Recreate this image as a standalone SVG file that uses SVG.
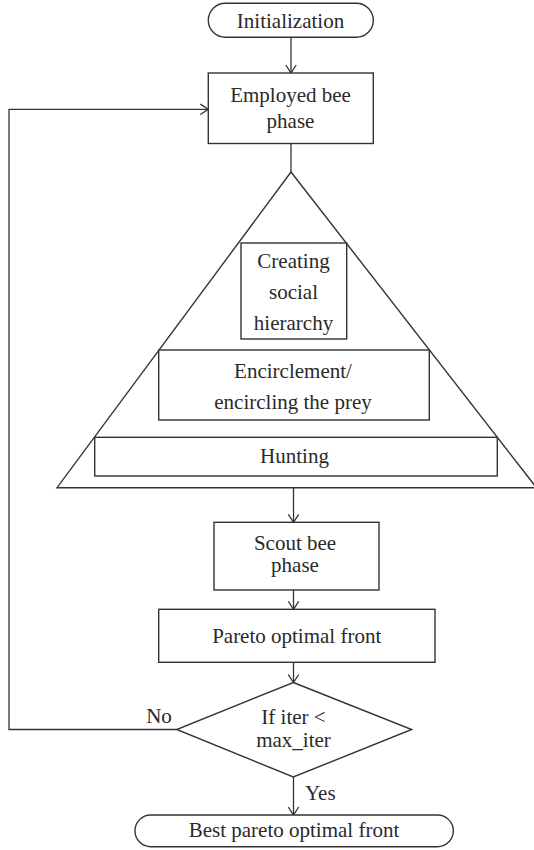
<svg xmlns="http://www.w3.org/2000/svg" width="534" height="850" viewBox="0 0 534 850">
<defs>
<marker id="arr" markerWidth="12" markerHeight="12" refX="10" refY="6" orient="auto" markerUnits="userSpaceOnUse">
<path d="M2,0.8 L10,6 L2,11.2" fill="none" stroke="#333" stroke-width="1.3"/>
</marker>
<style>
.s{fill:#fff;stroke:#333;stroke-width:1.4}
.c{fill:none;stroke:#333;stroke-width:1.3}
text{font-family:"Liberation Serif","Times New Roman",serif;font-size:21px;fill:#2a2a2a;text-anchor:middle}
.l{text-anchor:start}
</style>
</defs>
<rect width="534" height="850" fill="#fff"/>
<g id="connectors">
<line class="c" x1="291" y1="37.3" x2="291" y2="73" marker-end="url(#arr)"/>
<line class="c" x1="291" y1="143.5" x2="291" y2="172"/>
<line class="c" x1="293.5" y1="339" x2="293.5" y2="350" marker-end="url(#arr)"/>
<line class="c" x1="293.5" y1="420" x2="293.5" y2="437.3" marker-end="url(#arr)"/>
<line class="c" x1="293.5" y1="487.7" x2="293.5" y2="522.3" marker-end="url(#arr)"/>
<line class="c" x1="293.5" y1="590" x2="293.5" y2="609.3" marker-end="url(#arr)"/>
<line class="c" x1="293.5" y1="662.3" x2="293.5" y2="682.5" marker-end="url(#arr)"/>
<line class="c" x1="293.5" y1="777" x2="293.5" y2="815" marker-end="url(#arr)"/>
<polyline class="c" points="176.7,729.5 9,729.5 9,109.3 208.3,109.3" marker-end="url(#arr)"/>
<text x="159" y="723">No</text>
<text class="l" x="305" y="800">Yes</text>
</g>
<g id="initialization">
<rect class="s" x="208.3" y="3.3" width="165" height="34" rx="17"/>
<text x="290.5" y="28">Initialization</text>
</g>
<g id="employed">
<rect class="s" x="208.3" y="73" width="165" height="70.5"/>
<text x="290.5" y="101.7">Employed bee</text>
<text x="290.5" y="128">phase</text>
</g>
<g id="gwo-triangle">
<polygon class="s" points="291,172 57,487.7 536.5,487.7"/>
</g>
<g id="creating">
<rect class="s" x="241" y="243" width="105.7" height="96"/>
<text x="293.5" y="268">Creating</text>
<text x="293.5" y="299">social</text>
<text x="293.5" y="330">hierarchy</text>
</g>
<g id="encirclement">
<rect class="s" x="158.7" y="350" width="270.6" height="70"/>
<text x="293" y="378.3">Encirclement/</text>
<text x="293" y="409">encircling the prey</text>
</g>
<g id="hunting">
<rect class="s" x="94.7" y="437.3" width="402.6" height="38.7"/>
<text x="294.5" y="463.3">Hunting</text>
</g>
<g id="scout">
<rect class="s" x="214" y="522.3" width="165" height="67.7"/>
<text x="295" y="550">Scout bee</text>
<text x="295" y="571.7">phase</text>
</g>
<g id="pareto">
<rect class="s" x="158.7" y="609.3" width="276.3" height="53"/>
<text x="296.7" y="643.3">Pareto optimal front</text>
</g>
<g id="decision">
<polygon class="s" points="293.3,682.5 411.7,729.5 293.3,777 176.7,729.5"/>
<text x="293.5" y="724">If iter &lt;</text>
<text x="293.5" y="746.7">max_iter</text>
</g>
<g id="best">
<rect class="s" x="135" y="815" width="318.3" height="31.7" rx="15.8"/>
<text x="294" y="837.3">Best pareto optimal front</text>
</g>
</svg>
